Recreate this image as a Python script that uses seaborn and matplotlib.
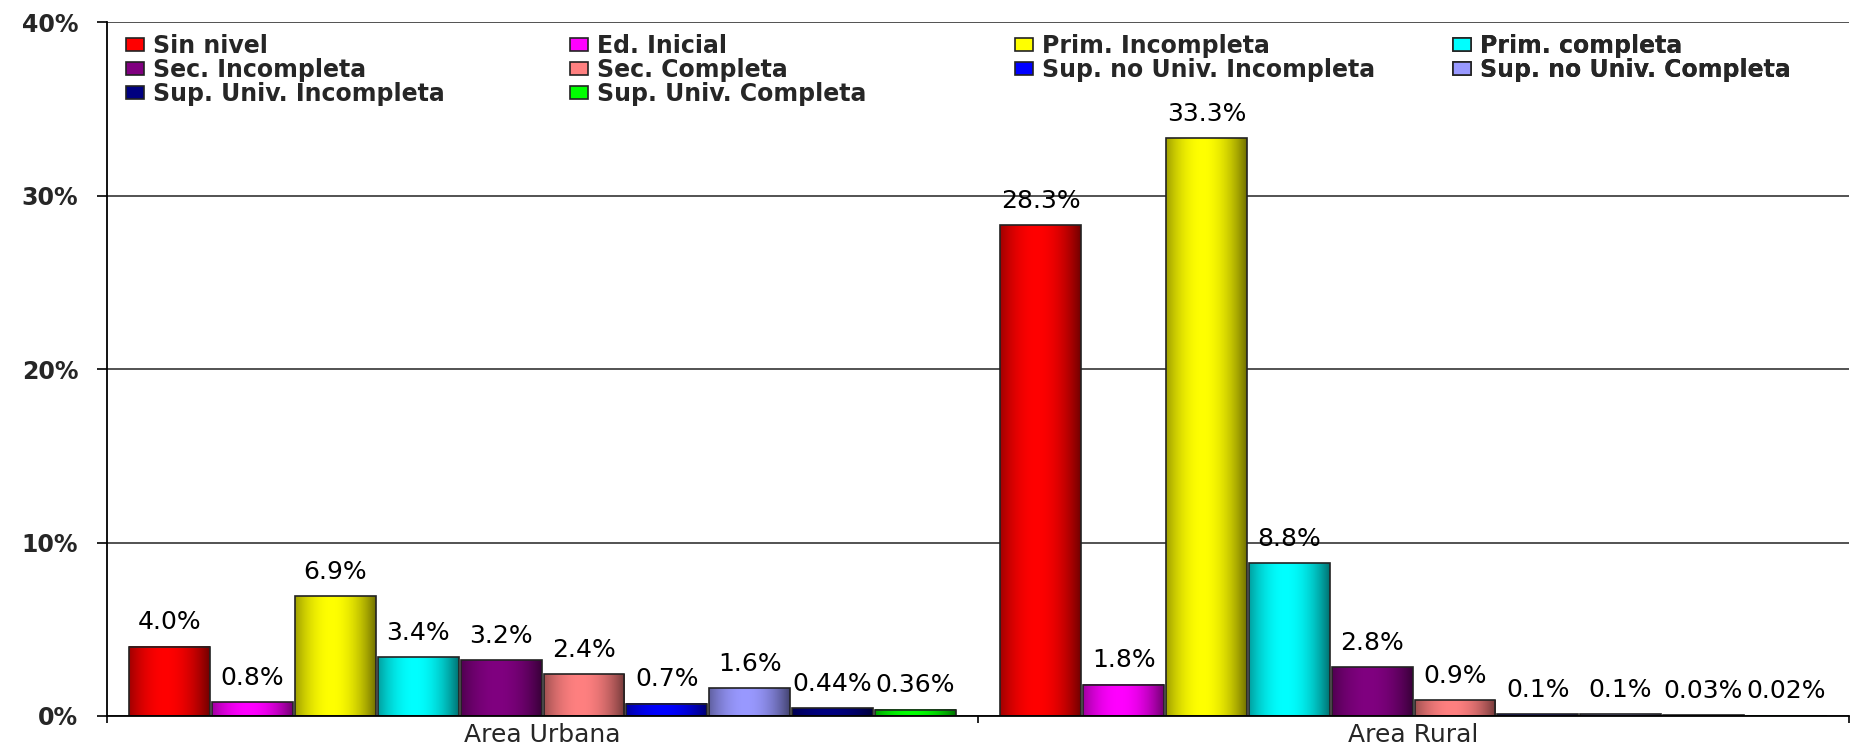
import numpy as np
import pandas as pd
import matplotlib
matplotlib.use('Agg')
import matplotlib.pyplot as plt
import matplotlib.colors as mcolors
from matplotlib.patches import Patch
from matplotlib.ticker import PercentFormatter
import seaborn as sns

# Data
areas = ['Area Urbana', 'Area Rural']
niveles = ['Sin nivel', 'Ed. Inicial', 'Prim. Incompleta', 'Prim. completa',
           'Sec. Incompleta', 'Sec. Completa', 'Sup. no Univ. Incompleta',
           'Sup. no Univ. Completa', 'Sup. Univ. Incompleta', 'Sup. Univ. Completa']
urbana_vals = [4.0, 0.8, 6.9, 3.4, 3.2, 2.4, 0.7, 1.6, 0.44, 0.36]
rural_vals = [28.3, 1.8, 33.3, 8.8, 2.8, 0.9, 0.1, 0.1, 0.03, 0.02]
urbana_labels = ['4.0%', '0.8%', '6.9%', '3.4%', '3.2%', '2.4%', '0.7%', '1.6%', '0.44%', '0.36%']
rural_labels = ['28.3%', '1.8%', '33.3%', '8.8%', '2.8%', '0.9%', '0.1%', '0.1%', '0.03%', '0.02%']
colores = ['#FF0000', '#FF00FF', '#FFFF00', '#00FFFF', '#800080',
           '#FF8080', '#0000FF', '#9999FF', '#000080', '#00FF00']
y_ticks = [0, 10, 20, 30, 40]

df = pd.DataFrame({
    'area': [areas[0]] * len(niveles) + [areas[1]] * len(niveles),
    'nivel': niveles * 2,
    'valor': urbana_vals + rural_vals,
})

sns.set_theme(style='white')
plt.rcParams['font.family'] = ['DejaVu Sans']

fig = plt.figure(figsize=(18.52, 7.54), dpi=100)
ax = fig.add_axes([0.0578, 0.0504, 0.9406, 0.9204])

sns.barplot(data=df, x='area', y='valor', hue='nivel', order=areas,
            hue_order=niveles, palette=colores, saturation=1,
            width=0.951, gap=0.025, errorbar=None,
            edgecolor='#222222', linewidth=1.2, legend=False, ax=ax)

# Excel-like cylinder shading on every bar
t = np.linspace(0, 1, 80)
shade = 1 - 0.55 * ((t - 0.45) / 0.55) ** 2
for patch in ax.patches:
    x0, y0 = patch.get_x(), patch.get_y()
    w, h = patch.get_width(), patch.get_height()
    rgb = np.array(mcolors.to_rgb(patch.get_facecolor()))
    img = (shade[:, None] * rgb[None, :])[None, :, :]
    ax.imshow(img, extent=(x0, x0 + w, y0, y0 + h), aspect='auto',
              interpolation='bilinear', zorder=0.8)
    patch.set_facecolor('none')

for i, cont in enumerate(ax.containers):
    ax.bar_label(cont, labels=[urbana_labels[i], rural_labels[i]],
                 padding=9, fontsize=18, color='black')

ax.set_xlim(-0.5, 1.5)
ax.set_ylim(0, 40)
ax.set_yticks(y_ticks)
ax.yaxis.set_major_formatter(PercentFormatter(decimals=0))
ax.set_xticks([0, 1])
ax.set_xticks([-0.5, 0.5, 1.5], minor=True)
ax.set_xlabel('')
ax.set_ylabel('')

ax.set_axisbelow(True)
ax.yaxis.grid(True, color='#444444', linewidth=1.3)
for side in ['top', 'right']:
    ax.spines[side].set_visible(False)
for side in ['left', 'bottom']:
    ax.spines[side].set_color('black')
    ax.spines[side].set_linewidth(1.3)

ax.tick_params(axis='y', which='major', direction='out', length=7.2, width=1.2,
               color='black', left=True, pad=13.5, labelsize=17)
for lab in ax.get_yticklabels():
    lab.set_fontweight('bold')
ax.tick_params(axis='x', which='major', length=0, pad=5, labelsize=18)
ax.tick_params(axis='x', which='minor', direction='out', length=5, width=1.2,
               color='black', bottom=True)

# Legend laid out row-wise in four columns, as in the original
cols = [[0, 4, 8], [1, 5, 9], [2, 6], [3, 7]]
col_x = [0.0109, 0.2658, 0.5212, 0.7727]
for idxs, cx in zip(cols, col_x):
    handles = [Patch(facecolor=colores[k], edgecolor='#222222', linewidth=1.2) for k in idxs]
    leg = ax.legend(handles, [niveles[k] for k in idxs], loc='upper left',
                    bbox_to_anchor=(cx, 0.983), frameon=False, borderpad=0,
                    borderaxespad=0, handlelength=0.75, handleheight=0.5,
                    handletextpad=0.4, labelspacing=0.0,
                    prop={'size': 17, 'weight': 'bold'})
    ax.add_artist(leg)

fig.savefig('out.png', dpi=100)
